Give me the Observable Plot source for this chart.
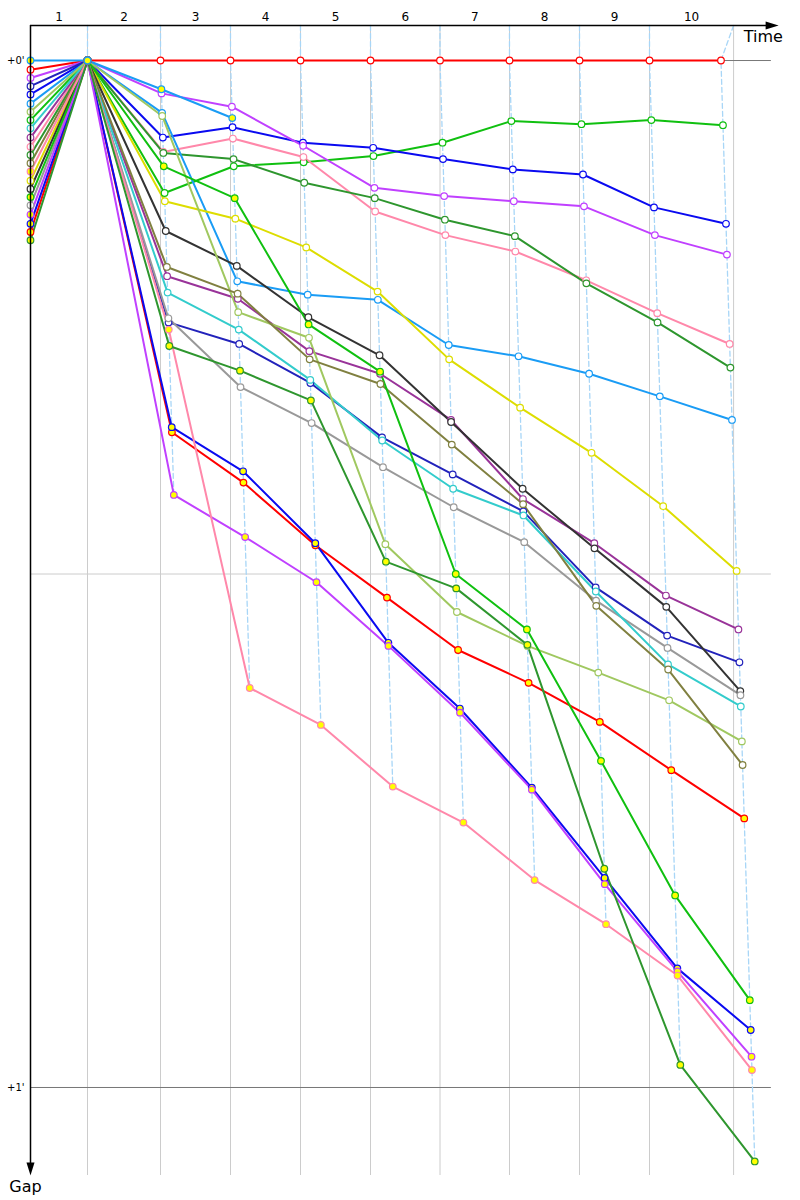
<!DOCTYPE html>
<html><head><meta charset="utf-8">
<script src="https://cdn.jsdelivr.net/npm/d3@7"></script>
<script src="https://cdn.jsdelivr.net/npm/@observablehq/plot@0.6"></script>
<style>body{margin:0;background:#fff}</style>
</head><body><div id="chart"></div>
<script>
// Lap labels and timing (minutes)
const lapLabels = ["1","2","3","4","5","6","7","8","9","10"];
const leaderTimes = [1.81, 4.127, 6.349, 8.571, 10.794, 13.0, 15.206, 17.429, 19.651, 21.92];
const gridTimes   = [1.81, 4.127, 6.349, 8.571, 10.794, 13.0, 15.206, 17.429, 19.651, 22.32];
const yTickValues = [0, 1];
const yTickLabels = ["+0'", "+1'"];

// colour palette, assigned by final position (second cycle gets yellow fill)
const palette = ["#ff0000","#10c010","#0a0af0","#c040ff","#ff88aa","#2e962e","#1a9cf5","#dddd00",
                 "#993399","#2222bb","#333333","#999999","#33cccc","#a0c860","#808040"];

// gaps: [start, lap1 .. lap10] in minutes
const p01 = [0.009, 0, 0, 0, 0, 0, 0, 0, 0, 0, 0];
const p02 = [0.058, 0, 0.129, 0.103, 0.099, 0.093, 0.080, 0.059, 0.062, 0.058, 0.063];
const p03 = [0.033, 0, 0.075, 0.065, 0.080, 0.085, 0.096, 0.106, 0.111, 0.143, 0.159];
const p04 = [0.017, 0, 0.032, 0.045, 0.083, 0.124, 0.132, 0.137, 0.142, 0.170, 0.189];
const p05 = [0.084, 0, 0.089, 0.076, 0.094, 0.147, 0.170, 0.186, 0.214, 0.246, 0.276];
const p06 = [0.092, 0, 0.090, 0.096, 0.119, 0.134, 0.155, 0.171, 0.217, 0.255, 0.299];
const p07 = [0.042, 0, 0.051, 0.215, 0.228, 0.233, 0.277, 0.288, 0.305, 0.327, 0.350];
const p08 = [0.117, 0, 0.137, 0.154, 0.182, 0.225, 0.291, 0.338, 0.382, 0.434, 0.497];
const p09 = [0.075, 0, 0.210, 0.232, 0.283, 0.305, 0.350, 0.427, 0.470, 0.521, 0.554];
const p10 = [0.025, 0, 0.255, 0.276, 0.314, 0.367, 0.403, 0.439, 0.513, 0.560, 0.586];
const p11 = [0.125, 0, 0.166, 0.200, 0.250, 0.287, 0.352, 0.417, 0.475, 0.532, 0.614];
const p12 = [0.141, 0, 0.251, 0.318, 0.353, 0.396, 0.435, 0.469, 0.526, 0.572, 0.618];
const p13 = [0.066, 0, 0.226, 0.262, 0.311, 0.370, 0.417, 0.443, 0.517, 0.588, 0.629];
const p14 = [0.050, 0, 0.054, 0.245, 0.270, 0.471, 0.537, 0.570, 0.596, 0.623, 0.663];
const p15 = [0.100, 0, 0.201, 0.227, 0.291, 0.315, 0.374, 0.432, 0.531, 0.593, 0.686];
const p16 = [0.167, 0, 0.362, 0.411, 0.472, 0.523, 0.574, 0.606, 0.644, 0.691, 0.738];
const p17 = [0.133, 0, 0.103, 0.134, 0.257, 0.303, 0.500, 0.554, 0.682, 0.813, 0.915];
const p18 = [0.159, 0, 0.357, 0.400, 0.470, 0.567, 0.631, 0.708, 0.796, 0.884, 0.944];
const p19 = [0.150, 0, 0.423, 0.464, 0.508, 0.570, 0.635, 0.710, 0.802, 0.887, 0.970];
const p20 = [0.108, 0, 0.262, 0.611, 0.647, 0.707, 0.742, 0.798, 0.841, 0.891, 0.983];
const p21 = [0.175, 0, 0.278, 0.302, 0.331, 0.488, 0.514, 0.569, 0.787, 0.978, 1.072];
const p22 = [0.000, 0, 0.028, 0.056];
const series = [p01,p02,p03,p04,p05,p06,p07,p08,p09,p10,p11,p12,p13,p14,p15,p16,p17,p18,p19,p20,p21,p22];

const yTop = -0.0341, yBot = 1.0857, xMax = 24, xRuleEnd = 23.52;

const pts = [];
series.forEach((s, i) => {
  const color = palette[i % palette.length];
  const fill = i >= palette.length ? "#ffff00" : "#ffffff";
  s.forEach((g, k) => {
    pts.push({driver: i, lap: k, x: k === 0 ? 0 : leaderTimes[k - 1] + g, y: g, color, fill});
  });
});

const lapPts = [];
for (let k = 1; k <= 10; k++) {
  lapPts.push({lap: k, x: gridTimes[k - 1], y: yTop});
  pts.filter(p => p.lap === k).sort((a, b) => a.y - b.y).forEach(p => lapPts.push({lap: k, x: p.x, y: p.y}));
}

const labelPos = gridTimes.map((t, k) => ((k === 0 ? 0 : gridTimes[k - 1]) + t) / 2);

const arrowHead = {draw(ctx) { ctx.moveTo(0, 0); ctx.lineTo(-13, -4); ctx.lineTo(-13, 4); ctx.closePath(); }};

const chart = Plot.plot({
  width: 800, height: 1200,
  marginLeft: 30, marginRight: 14, marginTop: 25, marginBottom: 25,
  x: {domain: [0, xMax], axis: null},
  y: {domain: [yTop, yBot], reverse: true, axis: null},
  color: {type: "identity"},
  style: {fontFamily: "'DejaVu Sans', sans-serif", background: "white", overflow: "visible"},
  marks: [
    Plot.ruleX(gridTimes, {y1: yTop, y2: yBot, stroke: "#cccccc", strokeWidth: 1}),
    Plot.ruleY([0.5], {x1: 0, x2: xRuleEnd, stroke: "#cccccc"}),
    Plot.ruleY(yTickValues, {x1: 0, x2: xRuleEnd, stroke: "#777777"}),
    Plot.line(lapPts, {x: "x", y: "y", z: "lap", stroke: "#a8d6f7", strokeWidth: 1.3, strokeDasharray: "5,3"}),
    Plot.line(pts, {x: "x", y: "y", z: "driver", stroke: "color", strokeWidth: 2}),
    Plot.dot(pts, {x: "x", y: "y", r: 3.3, stroke: "color", fill: "fill", strokeWidth: 1.2}),
    // axes
    Plot.ruleY([yTop], {x1: 0, x2: 23.4, stroke: "black", strokeWidth: 1.5}),
    Plot.ruleX([0], {y1: yTop, y2: yBot - 0.01, stroke: "black", strokeWidth: 1.5}),
    Plot.dot([0], {x: 23.75, y: yTop, symbol: arrowHead, fill: "black", stroke: "none", r: 5}),
    Plot.dot([0], {x: 0, y: yBot, symbol: arrowHead, fill: "black", stroke: "none", r: 5, rotate: 90}),
    Plot.text(lapLabels, {x: (d, i) => labelPos[i], y: yTop, dy: -8, fontSize: 12, fill: "black"}),
    Plot.text(yTickLabels, {x: 0, y: (d, i) => yTickValues[i], dx: -6, textAnchor: "end", fontSize: 10, fill: "black"}),
    Plot.text(["Time"], {x: 22.64, y: yTop, dy: 11, textAnchor: "start", fontSize: 16, fill: "black"}),
    Plot.text(["Gap"], {x: 0, y: yBot, dx: -5, dy: 11, fontSize: 16, fill: "black"})
  ]
});
document.getElementById("chart").appendChild(chart);
</script>
</body></html>
